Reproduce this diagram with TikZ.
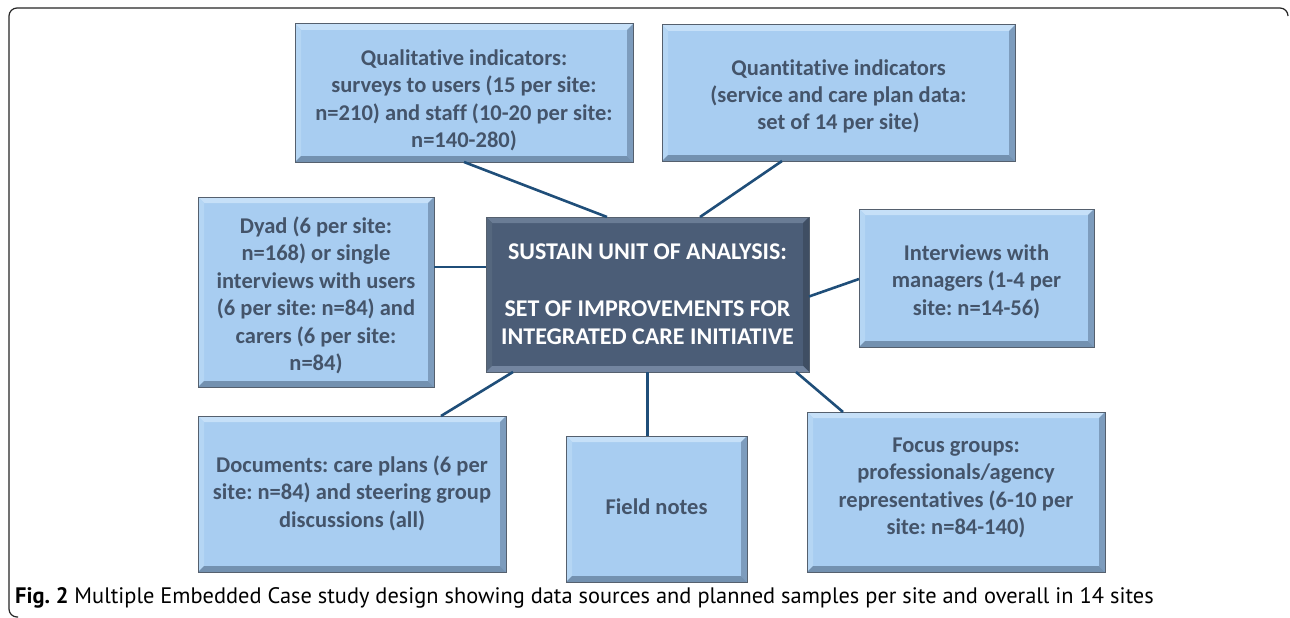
\documentclass[tikz,border=0pt]{standalone}
\usepackage{fontspec}
\setmainfont{Carlito}[Ligatures=NoCommon]
\newfontfamily\capfont{PT Sans}
\frenchspacing
\newcommand{\boxlines}[2]{\raisebox{#1}[\height][\depth]{\begin{tabular}{@{}c@{}}#2\end{tabular}}}
\definecolor{boxfill}{HTML}{A8CDF1}
\definecolor{boxlight}{HTML}{C6E0F8}
\definecolor{boxleft}{HTML}{B5D6F4}
\definecolor{boxright}{HTML}{7D9CBD}
\definecolor{boxbottom}{HTML}{7391B0}
\definecolor{boxedge}{HTML}{55606E}
\definecolor{boxtext}{HTML}{44546A}
\definecolor{cfill}{HTML}{4B5D77}
\definecolor{clight}{HTML}{6A7C95}
\definecolor{cleft}{HTML}{55677E}
\definecolor{cright}{HTML}{3F4E63}
\definecolor{cbottom}{HTML}{7385A0}
\definecolor{linkcol}{HTML}{1F4E79}
\tikzset{
  bevel/.style n args={4}{path picture={
    \path (path picture bounding box.north west) coordinate (bnw)
          (path picture bounding box.south east) coordinate (bse);
    \fill[#1] (bnw) -- (bnw -| bse) -- ([shift={(-6pt,-6pt)}]bnw -| bse) -- ([shift={(6pt,-6pt)}]bnw) -- cycle;
    \fill[#2] (bnw) -- ([shift={(6pt,-6pt)}]bnw) -- ([shift={(6pt,6pt)}]bnw |- bse) -- (bnw |- bse) -- cycle;
    \fill[#3] (bnw -| bse) -- (bse) -- ([shift={(-6pt,6pt)}]bse) -- ([shift={(-6pt,-6pt)}]bnw -| bse) -- cycle;
    \fill[#4] (bnw |- bse) -- (bse) -- ([shift={(-6pt,6pt)}]bse) -- ([shift={(6pt,6pt)}]bnw |- bse) -- cycle;
  }},
  srcbox/.style 2 args={draw=boxedge, line width=1pt, fill=boxfill,
    bevel={boxlight}{boxleft}{boxright}{boxbottom},
    anchor=north west, inner sep=0pt, outer sep=0pt,
    minimum width=#1, minimum height=#2, text=boxtext,
    font=\fontsize{22.5}{27.5}\selectfont\bfseries},
  centbox/.style 2 args={draw=boxedge, line width=1pt, fill=cfill,
    bevel={clight}{cleft}{cright}{cbottom},
    anchor=north west, inner sep=0pt, outer sep=0pt,
    minimum width=#1, minimum height=#2, text=white,
    font=\fontsize{24}{28.5}\selectfont\bfseries},
  link/.style={draw=linkcol, line width=2.6pt},
  frame/.style={draw=black!85, line width=1.2pt, rounded corners=8pt}
}
\begin{document}
\begin{tikzpicture}[x=1pt,y=-1pt]
\useasboundingbox (0,0) rectangle (1290,618);
\fill[white] (0,0) rectangle (1290,618);
\draw[frame] (1288,16) -- (1288,8) -- (9,8) -- (9,617) -- (18,617);

\node[srcbox={338pt}{138pt}] (Q) at (295,24)
  {\boxlines{-8pt}{Qualitative indicators:\\surveys to users (15 per site:\\n=210) and staff (10-20 per site:\\n=140-280)}};
\node[srcbox={353pt}{136pt}] (Qt) at (662,25)
  {\boxlines{-4pt}{Quantitative indicators\\(service and care plan data:\\set of 14 per site)}};
\node[centbox={323pt}{155pt}] (C) at (486,217)
  {\boxlines{-2pt}{SUSTAIN UNIT OF ANALYSIS:\\[28.5pt]SET OF IMPROVEMENTS FOR\\INTEGRATED CARE INITIATIVE}};
\node[srcbox={236pt}{190pt}] (D) at (198,197)
  {\boxlines{-4.5pt}{Dyad (6 per site:\\n=168) or single\\interviews with users\\(6 per site: n=84) and\\carers (6 per site:\\n=84)}};
\node[srcbox={235pt}{138pt}] (I) at (859,209)
  {\boxlines{-4pt}{Interviews with\\managers (1-4 per\\site: n=14-56)}};
\node[srcbox={308pt}{156pt}] (Doc) at (198,416)
  {\boxlines{0pt}{Documents: care plans (6 per\\site: n=84) and steering group\\discussions (all)}};
\node[srcbox={181pt}{146pt}] (F) at (566,436)
  {\boxlines{0pt}{Field notes}};
\node[srcbox={298pt}{160pt}] (Fo) at (807,412)
  {\boxlines{4pt}{Focus groups:\\professionals/agency\\representatives (6-10 per\\site: n=84-140)}};

\draw[link] (Q.south) -- ([xshift=121pt]C.north west);
\draw[link] ([xshift=120pt]Qt.south west) -- ([xshift=214pt]C.north west);
\draw[link] ([yshift=25pt]D.east) -- ([yshift=25pt]D.east -| C.west);
\draw[link] ([yshift=-2pt]C.east) -- ([yshift=-1pt]I.west);
\draw[link] ([xshift=-65pt]Doc.north east) -- ([xshift=27pt]C.south west);
\draw[link] (C.south) -- (C.south |- F.north);
\draw[link] ([xshift=-13pt]C.south east) -- ([xshift=36pt]Fo.north west);

\node[anchor=west, inner sep=0pt, font=\capfont\fontsize{22.4}{24}\selectfont] (cap) at (15,598)
  {\textbf{Fig. 2} Multiple Embedded Case study design showing data sources and planned samples per site and overall in 14 sites};
\end{tikzpicture}
\end{document}
